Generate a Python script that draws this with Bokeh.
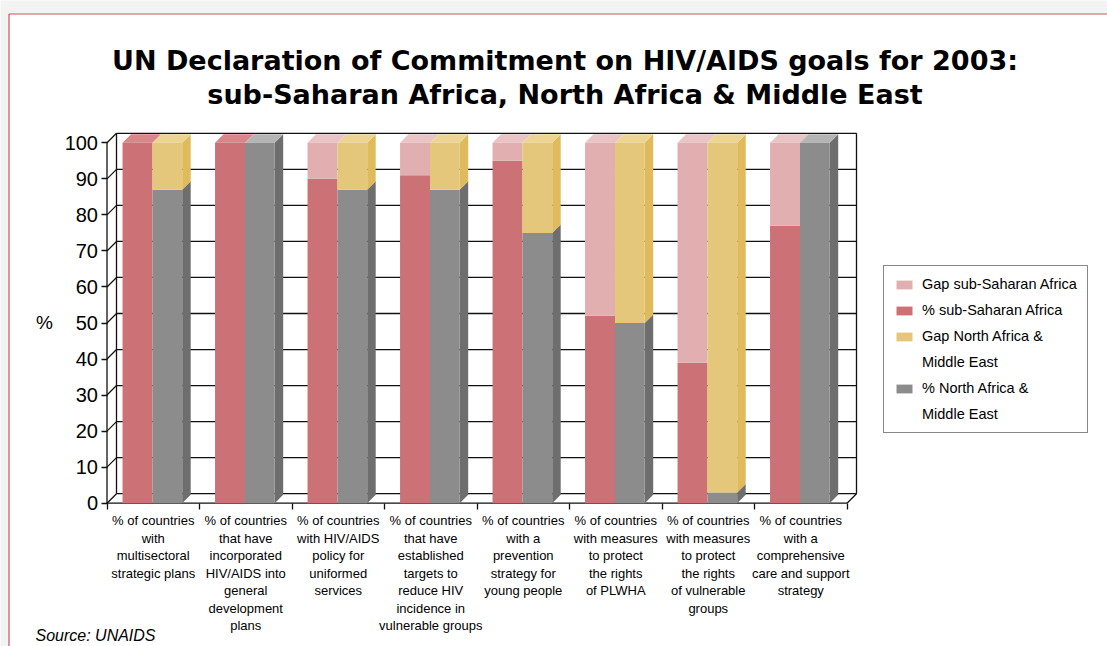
from bokeh.plotting import figure
from bokeh.models import ColumnDataSource, FixedTicker, Label, Legend, LegendItem
from bokeh.embed import file_html
from bokeh.resources import INLINE

# ---------------- data ----------------
categories = [
    "% of countries\nwith\nmultisectoral\nstrategic plans",
    "% of countries\nthat have\nincorporated\nHIV/AIDS into\ngeneral\ndevelopment\nplans",
    "% of countries\nwith HIV/AIDS\npolicy for\nuniformed\nservices",
    "% of countries\nthat have\nestablished\ntargets to\nreduce HIV\nincidence in\nvulnerable groups",
    "% of countries\nwith a\nprevention\nstrategy for\nyoung people",
    "% of countries\nwith measures\nto protect\nthe rights\nof PLWHA",
    "% of countries\nwith measures\nto protect\nthe rights\nof vulnerable\ngroups",
    "% of countries\nwith a\ncomprehensive\ncare and support\nstrategy",
]
ssa_pct = [100, 100, 90, 91, 95, 52, 39, 77]
ssa_gap = [0, 0, 10, 9, 5, 48, 61, 23]
name_pct = [87, 100, 87, 87, 75, 50, 3, 100]
name_gap = [13, 0, 13, 13, 25, 50, 97, 0]
y_ticks = [0, 10, 20, 30, 40, 50, 60, 70, 80, 90, 100]
series_labels = ["Gap sub-Saharan Africa", "% sub-Saharan Africa",
                 "Gap North Africa &\nMiddle East", "% North Africa &\nMiddle East"]

# ---------------- style / geometry ----------------
C_SSA, C_SSA_GAP = "#cc7277", "#e2afb1"
C_NAME, C_NAME_GAP = "#8c8c8c", "#e4c77a"
TOP = {C_SSA: "#d9868a", C_SSA_GAP: "#eac3c4", C_NAME: "#b4b4b4", C_NAME_GAP: "#ecd593"}
SIDE = {C_NAME: "#6e6e6e", C_NAME_GAP: "#dfbb5b"}

W, H = 1107, 646
PXC = 92.5     # px per category
PXU = 3.604    # px per percent
X0PX, Y0PX = 106.5, 502.7   # page position of the front origin
WDX, WDY = 9.5 / PXC, 9.5 / PXU    # wall depth
BDX, BDY = 8.5 / PXC, 8.5 / PXU    # bar depth
SSA_L, SSA_R = 0.168, 0.492
NAME_L, NAME_R = 0.492, 0.813
N = len(categories)
YMAX = 100


def px_x(px):
    return (px - X0PX) / PXC


def px_y(py):
    return (Y0PX - py) / PXU


p = figure(width=W, height=H, x_range=(px_x(0), px_x(W)), y_range=(px_y(H), px_y(0)),
           min_border=0, output_backend="svg", toolbar_location=None, tools="")
p.xgrid.visible = False
p.ygrid.visible = False
p.outline_line_color = None
p.background_fill_color = "#f3f3f3"
p.border_fill_color = "#f3f3f3"

# page panel with red border (decoration)
p.quad(left=[px_x(8)], right=[px_x(W + 5)], bottom=[px_y(H + 5)], top=[px_y(13)],
       fill_color="white", line_color=None)
p.segment(x0=[px_x(8.5), px_x(8.5)], y0=[px_y(13.5), px_y(13.5)],
          x1=[px_x(8.5), px_x(W + 5)], y1=[px_y(H + 5), px_y(13.5)],
          line_color="#c8505a", line_width=1.2)

LINE = dict(line_color="#111111", line_width=1.3)

# back wall grid lines and edges
gx0 = [WDX] * len(y_ticks)
gx1 = [N + WDX] * len(y_ticks)
gy = [t + WDY for t in y_ticks]
p.segment(x0=gx0, y0=gy, x1=gx1, y1=gy, **LINE)
p.segment(x0=[WDX, N + WDX], y0=[WDY, WDY], x1=[WDX, N + WDX], y1=[YMAX + WDY, YMAX + WDY], **LINE)
# left side wall diagonals
p.segment(x0=[0] * len(y_ticks), y0=y_ticks, x1=[WDX] * len(y_ticks), y1=gy, **LINE)
# front axis, floor front line and right floor diagonal
p.segment(x0=[0, 0, N], y0=[0, 0, 0], x1=[0, N, N + WDX], y1=[YMAX, 0, WDY], **LINE)


# ---------------- bars ----------------
def faces(left, right, pct, gap, val_color, gap_color, side):
    tops_x, tops_y, tops_c = [], [], []
    sx, sy, sc = [], [], []
    for i in range(N):
        xl, xr = i + left, i + right
        top_color = gap_color if gap[i] > 0 else val_color
        tops_x.append([xl, xr, xr + BDX, xl + BDX])
        tops_y.append([YMAX, YMAX, YMAX + BDY, YMAX + BDY])
        tops_c.append(TOP[top_color])
        if side:
            segs = [(0, pct[i], val_color), (pct[i], pct[i] + gap[i], gap_color)]
            for b, t, c in segs:
                if t - b <= 0:
                    continue
                sx.append([xr, xr + BDX, xr + BDX, xr])
                sy.append([b, b + BDY, t + BDY, t])
                sc.append(SIDE[c])
    return (tops_x, tops_y, tops_c), (sx, sy, sc)


xs_c = list(range(N))

# sub-Saharan Africa
(tx, ty, tc), _ = faces(SSA_L, SSA_R, ssa_pct, ssa_gap, C_SSA, C_SSA_GAP, False)
p.patches(xs=tx, ys=ty, fill_color=tc, line_color=None)
src_ssa = ColumnDataSource(dict(
    left=[i + SSA_L for i in xs_c], right=[i + SSA_R for i in xs_c],
    v=ssa_pct, top=[a + b for a, b in zip(ssa_pct, ssa_gap)], zero=[0] * N))
r_ssa = p.quad(left="left", right="right", bottom="zero", top="v", source=src_ssa,
               fill_color=C_SSA, line_color=None)
r_ssa_gap = p.quad(left="left", right="right", bottom="v", top="top", source=src_ssa,
                   fill_color=C_SSA_GAP, line_color=None)

# North Africa & Middle East
(tx, ty, tc), (sx, sy, sc) = faces(NAME_L, NAME_R, name_pct, name_gap, C_NAME, C_NAME_GAP, True)
p.patches(xs=sx, ys=sy, fill_color=sc, line_color=None)
p.patches(xs=tx, ys=ty, fill_color=tc, line_color=None)
src_name = ColumnDataSource(dict(
    left=[i + NAME_L for i in xs_c], right=[i + NAME_R for i in xs_c],
    v=name_pct, top=[a + b for a, b in zip(name_pct, name_gap)], zero=[0] * N))
r_name = p.quad(left="left", right="right", bottom="zero", top="v", source=src_name,
                fill_color=C_NAME, line_color=None)
r_name_gap = p.quad(left="left", right="right", bottom="v", top="top", source=src_name,
                    fill_color=C_NAME_GAP, line_color=None)

# invisible renderer used for continuation lines of legend labels
r_blank = p.quad(left=[], right=[], bottom=[], top=[], fill_alpha=0, line_alpha=0)

# ---------------- axes ----------------
yax = p.yaxis[0]
yax.fixed_location = 0
yax.ticker = FixedTicker(ticks=y_ticks, minor_ticks=[])
yax.axis_line_color = None
yax.major_tick_in = 0
yax.major_tick_out = 6
yax.major_tick_line_color = "#111111"
yax.major_tick_line_width = 1.3
yax.minor_tick_line_color = None
yax.major_label_standoff = 3
yax.major_label_text_font = "Liberation Sans"
yax.major_label_text_font_size = "20px"
yax.major_label_text_color = "black"

xax = p.xaxis[0]
xax.fixed_location = 0
centers = [i + 0.5 for i in range(N)]
xax.ticker = FixedTicker(ticks=centers, minor_ticks=list(range(N + 1)))
xax.major_label_overrides = {c: lab for c, lab in zip(centers, categories)}
xax.axis_line_color = None
xax.major_tick_line_color = None
xax.major_tick_in = 0
xax.major_tick_out = 0
xax.minor_tick_in = 0
xax.minor_tick_out = 6
xax.minor_tick_line_color = "#111111"
xax.minor_tick_line_width = 1.3
xax.major_label_standoff = 4
xax.major_label_text_font = "Liberation Sans"
xax.major_label_text_font_size = "13px"
xax.major_label_text_line_height = 1.165
xax.major_label_text_color = "black"

# ---------------- texts ----------------
for txt, base in [("UN Declaration of Commitment on HIV/AIDS goals for 2003:", 59.5),
                  ("sub-Saharan Africa, North Africa & Middle East", 94.0)]:
    p.add_layout(Label(x=px_x(564.5), y=px_y(base), text=txt, text_align="center",
                       text_baseline="alphabetic", text_font="DejaVu Sans",
                       text_font_style="bold", text_font_size="27px", text_color="black"))

p.add_layout(Label(x=px_x(44), y=px_y(322), text="%", text_align="center",
                   text_baseline="middle", text_font="Liberation Sans",
                   text_font_size="19px", text_color="black"))
p.add_layout(Label(x=px_x(35), y=px_y(643), text="Source: UNAIDS", text_align="left",
                   text_baseline="bottom", text_font="Liberation Sans",
                   text_font_style="italic", text_font_size="16px", text_color="black"))

# ---------------- legend ----------------
series_renderers = [r_ssa_gap, r_ssa, r_name_gap, r_name]
items = []
for lab, rend in zip(series_labels, series_renderers):
    lines = lab.split("\n")
    items.append(LegendItem(label=lines[0], renderers=[rend]))
    for extra in lines[1:]:
        items.append(LegendItem(label=extra, renderers=[r_blank]))

legend = Legend(items=items, location=(883, H - 433))
legend.border_line_color = "#111111"
legend.border_line_width = 1.5
legend.background_fill_color = "white"
legend.background_fill_alpha = 1.0
legend.label_text_font = "Liberation Sans"
legend.label_text_font_size = "14.5px"
legend.label_text_color = "black"
legend.label_height = 16
legend.glyph_width = 20
legend.glyph_height = 11
legend.label_standoff = 8
legend.padding = 10
legend.spacing = 10
legend.margin = 0
p.add_layout(legend, "center")

open("out.html", "w").write(file_html(p, INLINE))
